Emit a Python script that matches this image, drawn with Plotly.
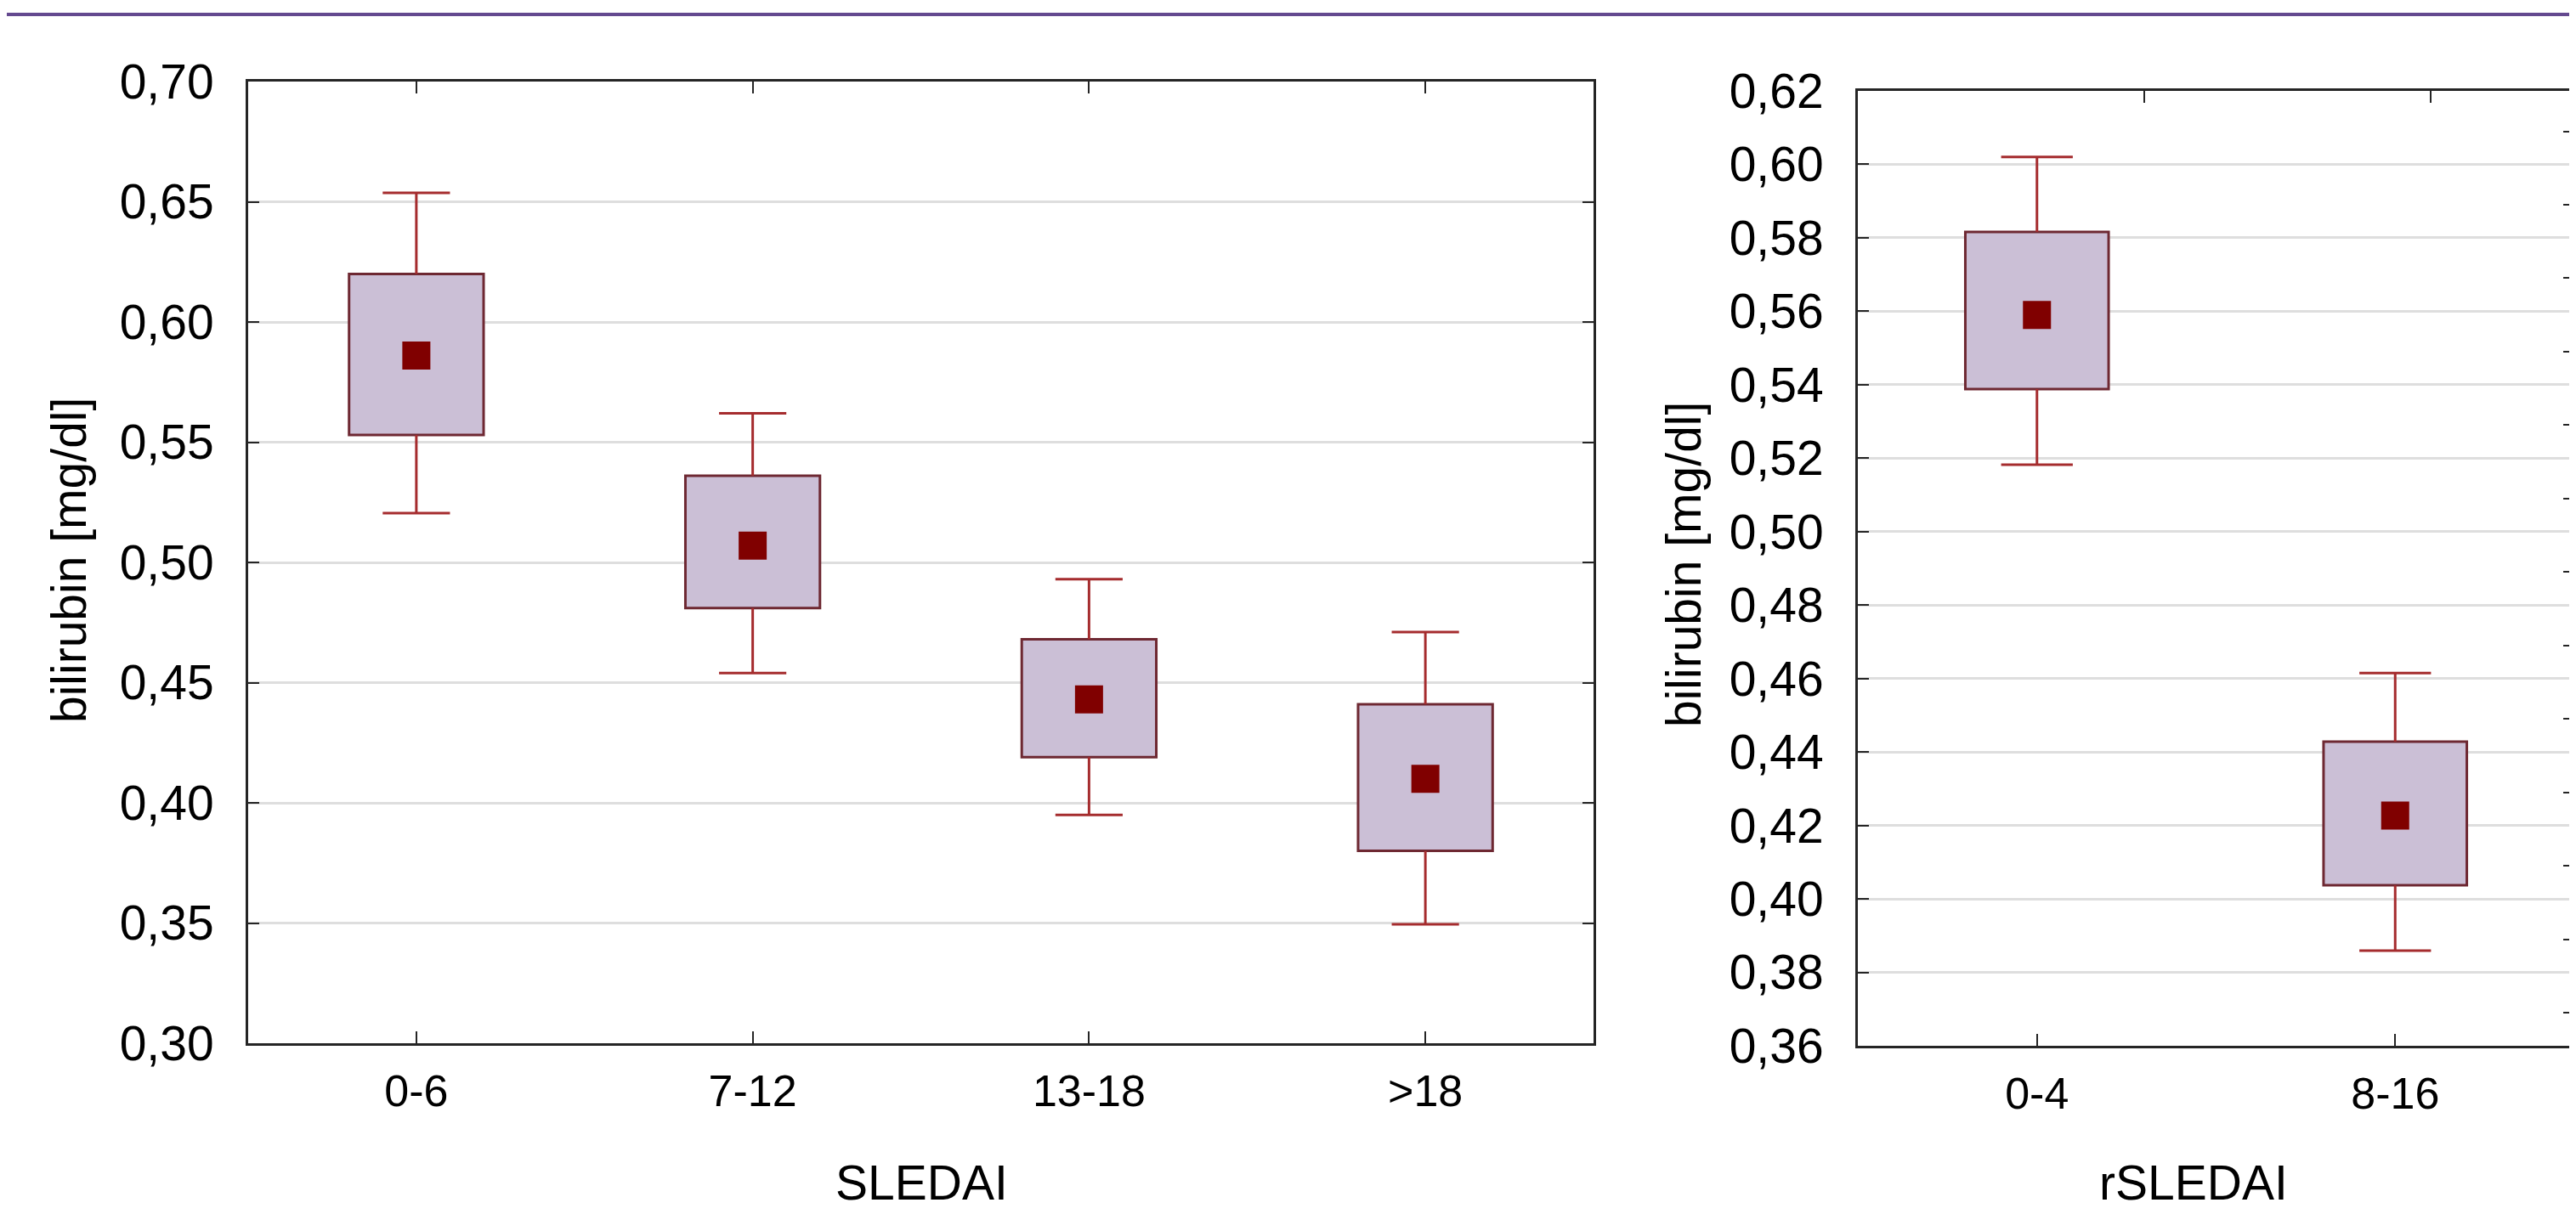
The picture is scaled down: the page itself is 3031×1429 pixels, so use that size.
import plotly.graph_objects as go

# ---- data ----
sledai_cats = ["0-6", "7-12", "13-18", ">18"]
sledai_mean = [0.586, 0.507, 0.443, 0.410]
sledai_box_lo = [0.553, 0.481, 0.419, 0.380]
sledai_box_hi = [0.620, 0.536, 0.468, 0.441]
sledai_wh_lo = [0.5205, 0.454, 0.395, 0.3495]
sledai_wh_hi = [0.6537, 0.562, 0.493, 0.471]

rsledai_cats = ["0-4", "8-16"]
rsledai_mean = [0.559, 0.4227]
rsledai_box_lo = [0.5388, 0.4037]
rsledai_box_hi = [0.5816, 0.4428]
rsledai_wh_lo = [0.5182, 0.3859]
rsledai_wh_hi = [0.602, 0.4615]

y_title = "bilirubin [mg/dl]"

# ---- styles ----
FONT = "Liberation Sans, Arial, sans-serif"
BOX_FILL = "#cbbfd6"
BOX_LINE = "#6e2832"
WHISK = "#a52c2e"
MEAN_C = "#800000"
AXIS_C = "#252525"
GRID_C = "#dedede"
BOX_W = 0.4
CAP_HALF = 0.1

W, H = 3031, 1429
OFF = 8  # page body margin offset


def px_x(p):
    return (p - OFF) / W


def px_y(p):
    return 1 - (p - OFF) / H


def whiskers(blo, bhi, wlo, whi):
    xs, ys = [], []
    for i in range(len(blo)):
        xs += [i, i, None, i - CAP_HALF, i + CAP_HALF, None,
               i, i, None, i - CAP_HALF, i + CAP_HALF, None]
        ys += [bhi[i], whi[i], None, whi[i], whi[i], None,
               blo[i], wlo[i], None, wlo[i], wlo[i], None]
    return xs, ys


fig = go.Figure()


def add_panel(cats, mean, blo, bhi, wlo, whi, xa, ya):
    n = len(cats)
    fig.add_trace(go.Bar(
        x=list(range(n)), y=[h - l for h, l in zip(bhi, blo)], base=blo,
        width=BOX_W, marker=dict(color=BOX_FILL, line=dict(color=BOX_LINE, width=3)),
        xaxis=xa, yaxis=ya, showlegend=False, hoverinfo="skip"))
    wx, wy = whiskers(blo, bhi, wlo, whi)
    fig.add_trace(go.Scatter(
        x=wx, y=wy, mode="lines", line=dict(color=WHISK, width=3),
        xaxis=xa, yaxis=ya, showlegend=False, hoverinfo="skip"))
    fig.add_trace(go.Scatter(
        x=list(range(n)), y=mean, mode="markers",
        marker=dict(symbol="square", size=33, color=MEAN_C, line=dict(width=0)),
        xaxis=xa, yaxis=ya, showlegend=False))


add_panel(sledai_cats, sledai_mean, sledai_box_lo, sledai_box_hi,
          sledai_wh_lo, sledai_wh_hi, "x", "y")
add_panel(rsledai_cats, rsledai_mean, rsledai_box_lo, rsledai_box_hi,
          rsledai_wh_lo, rsledai_wh_hi, "x2", "y2")

common_x = dict(showgrid=False, zeroline=False, showline=True, linecolor=AXIS_C,
                linewidth=3, ticks="inside", ticklen=14, tickwidth=2, tickcolor=AXIS_C,
                tickfont=dict(family=FONT, size=52, color="#000"), ticklabelstandoff=9,
                automargin=False)
common_y = dict(showgrid=True, gridcolor=GRID_C, gridwidth=3, zeroline=False,
                showline=True, linecolor=AXIS_C, linewidth=3, ticks="inside",
                ticklen=13, tickwidth=2, tickcolor=AXIS_C, tickformat=".2f",
                tickfont=dict(family=FONT, size=57, color="#000"), ticklabelstandoff=26,
                automargin=False)

fig.update_layout(
    width=W, height=H, margin=dict(l=0, r=0, t=0, b=0, pad=0),
    paper_bgcolor="white", plot_bgcolor="white", separators=", ",
    barmode="overlay", showlegend=False,
    xaxis=dict(common_x, domain=[px_x(292), px_x(1875)], range=[-0.5, 3.5],
               tickvals=list(range(len(sledai_cats))), ticktext=sledai_cats,
               mirror="ticks", anchor="y"),
    yaxis=dict(common_y, domain=[px_y(1228), px_y(96)], range=[0.30, 0.70],
               tick0=0.30, dtick=0.05, mirror="ticks", anchor="x"),
    xaxis2=dict(common_x, domain=[px_x(2186), px_x(3029)], range=[-0.5, 1.5],
                tickvals=list(range(len(rsledai_cats))), ticktext=rsledai_cats,
                mirror=True, anchor="y2"),
    yaxis2=dict(common_y, domain=[px_y(1231), px_y(107)], range=[0.36, 0.62],
                tick0=0.36, dtick=0.02, mirror=True, anchor="x2"),
    # offset mirror ticks on the top and right of the second panel
    xaxis3=dict(overlaying="x2", anchor="y2", side="top", range=[-0.5, 1.5],
                tickvals=[0.30, 1.10], ticks="inside", ticklen=14, tickwidth=2,
                tickcolor=AXIS_C, showticklabels=False, showgrid=False,
                zeroline=False, showline=False, automargin=False),
    yaxis3=dict(overlaying="y2", anchor="x2", side="right", range=[0.36, 0.62],
                tickvals=[0.369, 0.389, 0.409, 0.429, 0.449, 0.469, 0.489,
                          0.509, 0.529, 0.549, 0.569, 0.589, 0.609],
                ticks="inside", ticklen=13, tickwidth=2, tickcolor=AXIS_C,
                showticklabels=False, showgrid=False, zeroline=False, showline=False,
                automargin=False),
    shapes=[dict(type="line", xref="paper", yref="paper", x0=0, x1=1,
                 y0=px_y(17), y1=px_y(17), line=dict(color="#64498f", width=4))],
    annotations=[
        dict(text=y_title, x=px_x(81), y=px_y(660), xref="paper", yref="paper",
             textangle=-90, showarrow=False, xanchor="center", yanchor="middle",
             font=dict(family=FONT, size=57, color="#000")),
        dict(text=y_title, x=px_x(1981), y=px_y(665), xref="paper", yref="paper",
             textangle=-90, showarrow=False, xanchor="center", yanchor="middle",
             font=dict(family=FONT, size=57, color="#000")),
        dict(text="SLEDAI", x=px_x(1084), y=px_y(1392), xref="paper", yref="paper",
             showarrow=False, xanchor="center", yanchor="middle",
             font=dict(family=FONT, size=57, color="#000")),
        dict(text="rSLEDAI", x=px_x(2581), y=px_y(1392), xref="paper", yref="paper",
             showarrow=False, xanchor="center", yanchor="middle",
             font=dict(family=FONT, size=57, color="#000")),
    ],
)

# dummy traces so the overlay axes are rendered
fig.add_trace(go.Scatter(x=[None], y=[None], xaxis="x3", yaxis="y2",
                         showlegend=False, hoverinfo="skip"))
fig.add_trace(go.Scatter(x=[None], y=[None], xaxis="x2", yaxis="y3",
                         showlegend=False, hoverinfo="skip"))

fig.write_html("out.html")
